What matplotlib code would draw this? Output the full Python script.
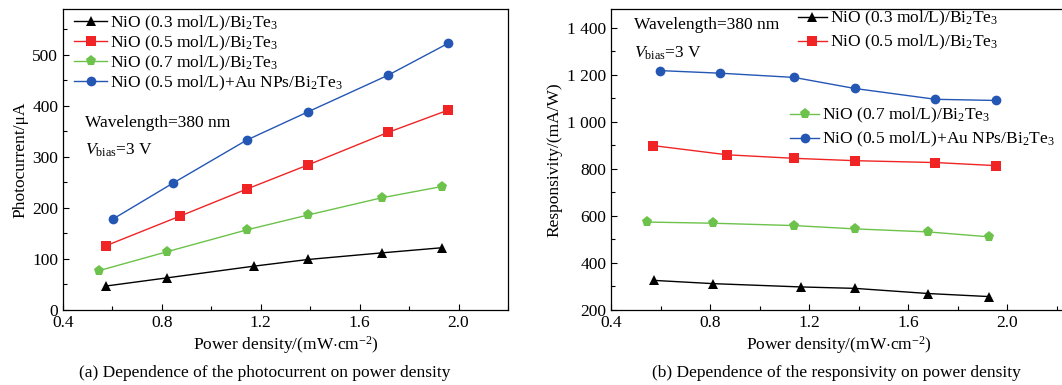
import matplotlib
matplotlib.use("Agg")
import matplotlib.pyplot as plt
from matplotlib.ticker import MultipleLocator, FuncFormatter

plt.rcParams['font.family'] = ['Liberation Serif', 'DejaVu Serif']
plt.rcParams['mathtext.fontset'] = 'custom'
plt.rcParams['mathtext.rm'] = 'Liberation Serif'
plt.rcParams['mathtext.it'] = 'Liberation Serif:italic'
plt.rcParams['mathtext.bf'] = 'Liberation Serif:bold'

labels = ["NiO (0.3 mol/L)/Bi$_2$Te$_3$",
          "NiO (0.5 mol/L)/Bi$_2$Te$_3$",
          "NiO (0.7 mol/L)/Bi$_2$Te$_3$",
          "NiO (0.5 mol/L)+Au NPs/Bi$_2$Te$_3$"]
colors = ["#000000", "#f02424", "#6cc24a", "#2456b4"]
markers = ["^", "s", "p", "o"]

# (a) photocurrent
pc_x03 = [0.574, 0.821, 1.173, 1.391, 1.690, 1.932]
pc_y03 = [47, 63, 86, 99, 112, 122]
pc_x05 = [0.574, 0.873, 1.143, 1.389, 1.714, 1.959]
pc_y05 = [126, 184, 237, 284, 348, 392]
pc_x07 = [0.545, 0.819, 1.143, 1.389, 1.690, 1.932]
pc_y07 = [77, 114, 157, 186, 220, 242]
pc_xau = [0.601, 0.846, 1.143, 1.389, 1.714, 1.959]
pc_yau = [178, 249, 333, 388, 460, 523]

# (b) responsivity
rs_x03 = [0.572, 0.814, 1.169, 1.385, 1.682, 1.929]
rs_y03 = [326, 312, 298, 292, 270, 257]
rs_x05 = [0.571, 0.869, 1.140, 1.385, 1.711, 1.956]
rs_y05 = [899, 860, 845, 835, 827, 814]
rs_x07 = [0.545, 0.814, 1.140, 1.385, 1.682, 1.929]
rs_y07 = [574, 569, 559, 545, 532, 511]
rs_xau = [0.599, 0.841, 1.140, 1.385, 1.711, 1.956]
rs_yau = [1218, 1207, 1189, 1142, 1096, 1091]

W, H = 1062, 385
fig = plt.figure(figsize=(W/100, H/100), dpi=100)
fs = 12.5

axA = fig.add_axes([63/W, 1-310/H, (508-63)/W, 301/H])
axB = fig.add_axes([611/W, 1-310/H, (1066-611)/W, 301/H])

pcs = [(pc_x03, pc_y03), (pc_x05, pc_y05), (pc_x07, pc_y07), (pc_xau, pc_yau)]
rss = [(rs_x03, rs_y03), (rs_x05, rs_y05), (rs_x07, rs_y07), (rs_xau, rs_yau)]

def draw(ax, data):
    hs = []
    for (x, y), c, m, l in zip(data, colors, markers, labels):
        h, = ax.plot(x, y, color=c, marker=m, markersize=7 if m != "p" else 8,
                     linewidth=1.0, label=l, markeredgewidth=0)
        hs.append(h)
    return hs

hA = draw(axA, pcs)
hB = draw(axB, rss)

for ax in (axA, axB):
    ax.tick_params(which='both', direction='in', labelsize=fs, top=False, right=False)
    ax.tick_params(which='major', length=4, width=0.8)
    ax.tick_params(which='minor', length=3, width=0.8)
    ax.xaxis.set_major_locator(MultipleLocator(0.4))
    ax.xaxis.set_minor_locator(MultipleLocator(0.2))
    ax.xaxis.set_major_formatter(FuncFormatter(lambda v, p: f"{v:.1f}"))
    for s in ax.spines.values():
        s.set_linewidth(0.9)
    ax.set_xlabel("Power density/(mW$\\cdot$cm$^{-2}$)", fontsize=fs, labelpad=2)

axA.set_xlim(0.4, 2.2)
axA.set_ylim(0, 590)
axA.yaxis.set_major_locator(MultipleLocator(100))
axA.yaxis.set_minor_locator(MultipleLocator(50))
axA.set_ylabel("Photocurrent/μA", fontsize=fs, labelpad=3)

axB.set_xlim(0.4, 0.4 + (1066-611)/99*0.4)
axB.set_ylim(200, 1480)
axB.yaxis.set_major_locator(MultipleLocator(200))
axB.yaxis.set_minor_locator(MultipleLocator(100))
axB.yaxis.set_major_formatter(FuncFormatter(
    lambda v, p: f"{int(v):,}".replace(",", " ")))
axB.set_ylabel("Responsivity/(mA/W)", fontsize=fs, labelpad=3)

legkw = dict(frameon=False, fontsize=fs, borderpad=0, borderaxespad=0,
             handlelength=1.9, handletextpad=0.15, loc='upper left')
axA.legend(handles=hA, bbox_to_anchor=(0.025, 0.985), labelspacing=0.045, **legkw)
legkw['handlelength'] = 1.7
lg1 = axB.legend(handles=hB[:2], bbox_to_anchor=(0.41, 1.0), labelspacing=0.275, **legkw)
axB.add_artist(lg1)
axB.legend(handles=hB[2:], bbox_to_anchor=(0.393, 0.677), labelspacing=0.275, **legkw)

axA.text(85/W, 1-123/H, "Wavelength=380 nm", transform=fig.transFigure,
         fontsize=fs, va='center', ha='left')
axA.text(85/W, 1-150/H, "$V_{\\rm bias}$=3 V", transform=fig.transFigure,
         fontsize=fs, va='center', ha='left')
axB.text(634/W, 1-25/H, "Wavelength=380 nm", transform=fig.transFigure,
         fontsize=fs, va='center', ha='left')
axB.text(634/W, 1-53/H, "$V_{\\rm bias}$=3 V", transform=fig.transFigure,
         fontsize=fs, va='center', ha='left')

fig.text(265/W, 1-373/H, "(a) Dependence of the photocurrent on power density",
         fontsize=fs, ha='center', va='center')
fig.text(836/W, 1-373/H, "(b) Dependence of the responsivity on power density",
         fontsize=fs, ha='center', va='center')

fig.savefig("out.png", dpi=100)
